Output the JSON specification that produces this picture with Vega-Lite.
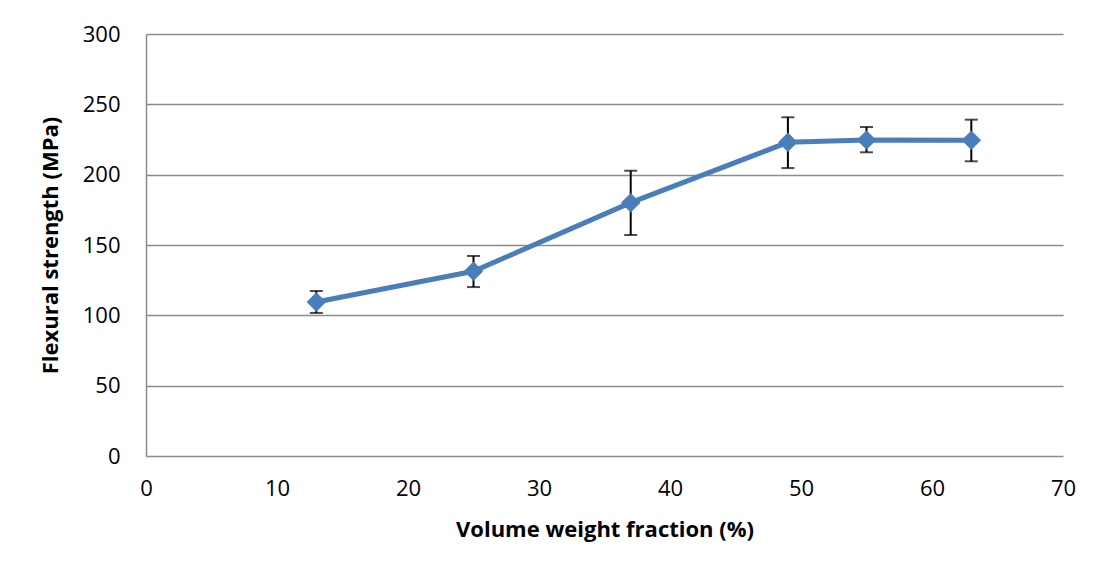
{
  "$schema": "https://vega.github.io/schema/vega-lite/v6.json",
  "autosize": "none",
  "width": 917,
  "height": 422,
  "padding": {"left": 146, "top": 34, "right": 32, "bottom": 122},
  "background": "white",
  "config": {
    "view": {"stroke": null},
    "font": "Open Sans",
    "axis": {
      "labelFont": "Open Sans",
      "labelFontSize": 22,
      "labelColor": "#000000",
      "labelFlush": false,
      "titleFont": "Open Sans",
      "titleFontSize": 22,
      "titleFontWeight": "bold",
      "titleColor": "#000000",
      "ticks": false,
      "domainColor": "#8c8c8c",
      "domainWidth": 1.5,
      "gridColor": "#8c8c8c",
      "gridWidth": 1.5
    }
  },
  "data": {
    "values": [
      {"x": 13, "y": 109.5, "lo": 101.7, "hi": 117.3},
      {"x": 25, "y": 131.3, "lo": 120.1, "hi": 142.2},
      {"x": 37, "y": 180.1, "lo": 157.1, "hi": 202.8},
      {"x": 49, "y": 223.0, "lo": 204.7, "hi": 240.8},
      {"x": 55, "y": 224.6, "lo": 215.9, "hi": 233.9},
      {"x": 63, "y": 224.4, "lo": 209.5, "hi": 239.1}
    ]
  },
  "layer": [
    {
      "mark": {"type": "line", "color": "#4a7ebb", "strokeWidth": 5},
      "encoding": {
        "x": {"field": "x", "type": "quantitative", "scale": {"domain": [0, 70], "nice": false},
              "axis": {"title": "Volume weight fraction (%)", "values": [0,10,20,30,40,50,60,70], "grid": false, "labelPadding": 22, "titlePadding": 20, "domain": false}},
        "y": {"field": "y", "type": "quantitative", "scale": {"domain": [0, 300], "nice": false},
              "axis": {"title": "Flexural strength (MPa)", "values": [0,50,100,150,200,250,300], "grid": true, "labelPadding": 26, "titlePadding": 20}}
      }
    },
    {
      "mark": {"type": "rule", "color": "#000000", "strokeWidth": 2},
      "encoding": {
        "x": {"field": "x", "type": "quantitative"},
        "y": {"field": "lo", "type": "quantitative"},
        "y2": {"field": "hi"}
      }
    },
    {
      "mark": {"type": "tick", "color": "#000000", "orient": "horizontal", "size": 13, "thickness": 2},
      "encoding": {
        "x": {"field": "x", "type": "quantitative"},
        "y": {"field": "lo", "type": "quantitative"}
      }
    },
    {
      "mark": {"type": "tick", "color": "#000000", "orient": "horizontal", "size": 13, "thickness": 2},
      "encoding": {
        "x": {"field": "x", "type": "quantitative"},
        "y": {"field": "hi", "type": "quantitative"}
      }
    },
    {
      "mark": {"type": "point", "shape": "diamond", "filled": true, "color": "#4a7ebb", "size": 380, "opacity": 1},
      "encoding": {
        "x": {"field": "x", "type": "quantitative"},
        "y": {"field": "y", "type": "quantitative"}
      }
    }
  ]
}
